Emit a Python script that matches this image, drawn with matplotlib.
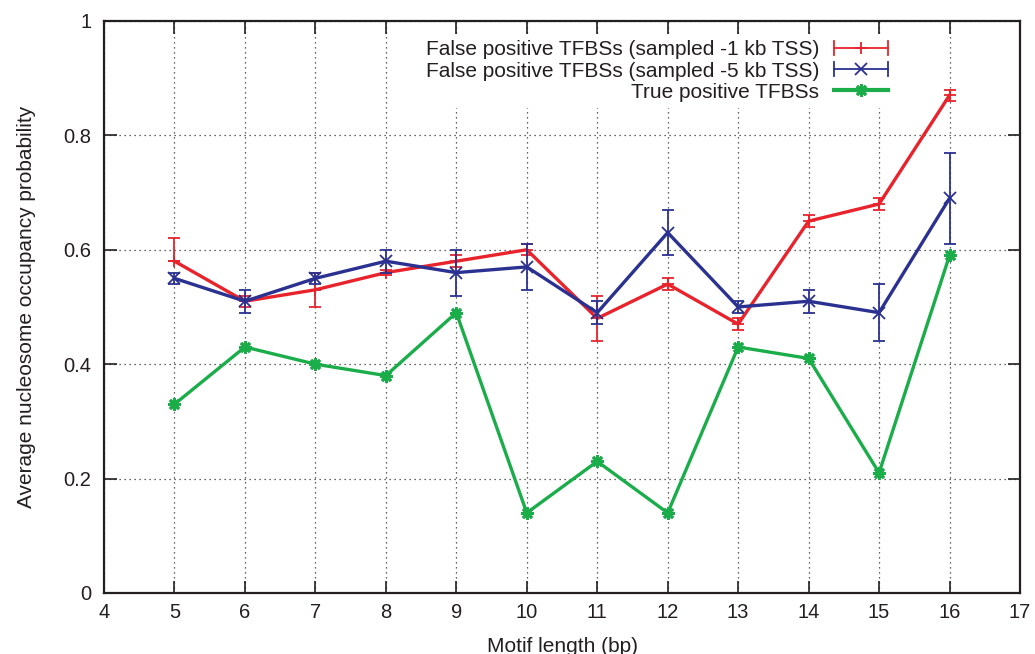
import numpy as np
import matplotlib.pyplot as plt
from matplotlib.legend_handler import HandlerBase
from matplotlib.lines import Line2D

plt.rcParams['font.family'] = ['Liberation Sans', 'DejaVu Sans']

# ── Data ─────────────────────────────────────────────────────
motif_len = [5, 6, 7, 8, 9, 10, 11, 12, 13, 14, 15, 16]

# false positives, sampled -1 kb TSS
fp1_mean = [0.58, 0.51, 0.53, 0.56, 0.58, 0.60, 0.48, 0.54, 0.47, 0.65, 0.68, 0.87]
fp1_lo   = [0.00, 0.01, 0.03, 0.005, 0.01, 0.01, 0.04, 0.01, 0.01, 0.01, 0.01, 0.01]
fp1_hi   = [0.04, 0.01, 0.03, 0.005, 0.01, 0.01, 0.04, 0.01, 0.01, 0.01, 0.01, 0.01]

# false positives, sampled -5 kb TSS
fp5_mean = [0.55, 0.51, 0.55, 0.58, 0.56, 0.57, 0.49, 0.63, 0.50, 0.51, 0.49, 0.69]
fp5_err  = [0.01, 0.02, 0.01, 0.02, 0.04, 0.04, 0.02, 0.04, 0.01, 0.02, 0.05, 0.08]

# true positives
tp_mean = [0.33, 0.43, 0.40, 0.38, 0.49, 0.14, 0.23, 0.14, 0.43, 0.41, 0.21, 0.59]

labels = ['False positive TFBSs (sampled -1 kb TSS)',
          'False positive TFBSs (sampled -5 kb TSS)',
          'True positive TFBSs']

red = '#e8232c'
blue = '#2b3190'
green = '#1bad4a'
txt = '#231f20'


# legend sample: gnuplot style line with end caps and a centre marker
class CapLineHandler(HandlerBase):
    def __init__(self, color, marker, lw, caps=True, ms=8, mew=1.3):
        super().__init__()
        self.color, self.marker, self.lw = color, marker, lw
        self.caps, self.ms, self.mew = caps, ms, mew

    def create_artists(self, legend, orig_handle, xdescent, ydescent,
                       width, height, fontsize, trans):
        y = height / 2 - ydescent
        x0, x1 = -xdescent, width - xdescent
        arts = [Line2D([x0, x1], [y, y], color=self.color, lw=self.lw)]
        if self.caps:
            for xc in (x0, x1):
                arts.append(Line2D([xc, xc], [y - 5, y + 5],
                                   color=self.color, lw=self.lw))
        arts.append(Line2D([(x0 + x1) / 2], [y], marker=self.marker,
                           color=self.color, ms=self.ms, mew=self.mew))
        for a in arts:
            a.set_transform(trans)
        return arts


fig = plt.figure(figsize=(10.35, 6.54), dpi=100)
ax = fig.add_axes([0.1005, 0.0933, 0.885, 0.8747])

star = (8, 2, 0)

# red: -1 kb
ax.errorbar(motif_len, fp1_mean, yerr=[fp1_lo, fp1_hi], color=red, lw=2.4,
            marker='+', ms=8, mew=1.3, elinewidth=1.3, capsize=4.5,
            capthick=1.3, zorder=3)

# blue: -5 kb
ax.errorbar(motif_len, fp5_mean, yerr=fp5_err, color=blue, lw=2.4,
            marker='x', ms=9, mew=1.3, elinewidth=1.3, capsize=4.5,
            capthick=1.3, zorder=4)

# green: true positives
ax.plot(motif_len, tp_mean, color=green, lw=2.4, marker=star, ms=9,
        mew=2.0, zorder=5)

ax.set_xlim(4, 17)
ax.set_ylim(0, 1)
ax.set_xticks(range(4, 18))
ax.set_yticks([0, 0.2, 0.4, 0.6, 0.8, 1.0])
ax.set_yticklabels(['0', '0.2', '0.4', '0.6', '0.8', '1'])

ax.grid(True, ls=(0, (1, 3)), color='#333333', lw=0.9)
ax.tick_params(direction='in', length=9, width=1.2, top=True, right=True,
               labelsize=14.5, colors=txt)
ax.tick_params(axis='y', pad=9)
ax.tick_params(axis='x', pad=7)
for sp in ax.spines.values():
    sp.set_linewidth(1.6)
    sp.set_color(txt)

ax.set_xlabel('Motif length (bp)', fontsize=15, color=txt, labelpad=11)
ax.set_ylabel('Average nucleosome occupancy probability', fontsize=15,
              color=txt, labelpad=20)

handles = [object(), object(), object()]
hmap = {handles[0]: CapLineHandler(red, '+', 1.3),
        handles[1]: CapLineHandler(blue, 'x', 1.3),
        handles[2]: CapLineHandler(green, star, 3.0, caps=False, ms=9, mew=2.0)}
leg = ax.legend(handles, labels, handler_map=hmap, loc='upper right',
                bbox_to_anchor=(0.874, 0.995), markerfirst=False,
                frameon=True, fancybox=False, edgecolor='none',
                facecolor='white', framealpha=1, fontsize=15,
                handlelength=2.6, handletextpad=0.7, labelspacing=0.1,
                borderpad=0.3)
for t in leg.get_texts():
    t.set_color(txt)
leg.set_zorder(2)

fig.savefig('out.png', dpi=100)
